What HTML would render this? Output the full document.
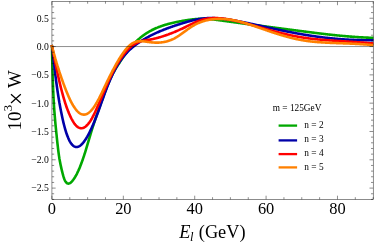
<!DOCTYPE html>
<html><head><meta charset="utf-8"><title>plot</title>
<style>html,body{margin:0;padding:0;background:#fff;}body{width:374px;height:244px;overflow:hidden;position:relative;font-family:"Liberation Serif",serif;}</style>
</head><body>
<svg width="374" height="244" viewBox="0 0 374 244" style="position:absolute;left:0;top:0;will-change:transform">
<defs><clipPath id="c"><rect x="49.45" y="1.5" width="324.45" height="197.9"/></clipPath></defs>
<g clip-path="url(#c)" fill="none" stroke-width="2.6" stroke-linejoin="round" stroke-linecap="butt">
<path d="M51.7,45.0 L52.00,46.40 L52.08,51.22 L52.16,55.62 L52.24,59.65 L52.32,63.37 L52.40,66.80 L52.48,69.98 L52.57,72.94 L52.65,75.71 L52.73,78.31 L52.81,80.75 L52.89,83.05 L52.97,85.22 L53.05,87.28 L53.13,89.24 L53.21,91.10 L53.29,92.88 L53.37,94.58 L53.45,96.21 L53.54,97.77 L53.62,99.27 L53.70,100.72 L53.78,102.11 L53.86,103.46 L53.94,104.77 L54.02,106.03 L54.10,107.25 L54.18,108.44 L54.26,109.60 L54.34,110.73 L54.42,111.83 L54.51,112.90 L54.59,113.95 L54.67,114.97 L54.75,115.97 L54.83,116.95 L54.91,117.91 L54.99,118.86 L55.07,119.78 L55.15,120.69 L55.23,121.59 L55.31,122.48 L55.39,123.35 L55.47,124.21 L55.56,125.06 L55.64,125.90 L55.72,126.73 L55.80,127.56 L55.88,128.37 L55.96,129.18 L56.04,129.99 L56.12,130.78 L56.20,131.58 L56.28,132.36 L56.36,133.15 L56.44,133.93 L56.53,134.70 L56.61,135.47 L56.69,136.24 L56.77,137.01 L56.85,137.77 L56.93,138.53 L57.01,139.29 L57.09,140.05 L57.17,140.80 L57.25,141.56 L57.33,142.30 L57.41,143.05 L57.49,143.79 L57.58,144.52 L57.66,145.25 L57.74,145.97 L57.82,146.68 L57.90,147.38 L57.98,148.08 L58.06,148.76 L58.14,149.44 L58.22,150.10 L58.30,150.76 L58.38,151.40 L58.46,152.03 L58.55,152.65 L58.63,153.26 L58.71,153.86 L58.79,154.44 L58.87,155.01 L58.95,155.57 L59.03,156.12 L59.11,156.65 L59.19,157.17 L59.27,157.68 L59.35,158.18 L59.43,158.67 L59.52,159.15 L59.60,159.62 L59.68,160.08 L59.76,160.53 L59.84,160.97 L59.92,161.41 L60.00,161.84 L60.52,164.46 L61.05,166.88 L61.57,169.17 L62.09,171.37 L62.62,173.47 L63.14,175.42 L63.66,177.18 L64.19,178.72 L64.71,180.01 L65.23,181.07 L65.76,181.91 L66.28,182.56 L66.80,183.04 L67.33,183.36 L67.85,183.54 L68.37,183.60 L68.90,183.54 L69.42,183.38 L69.94,183.13 L70.47,182.79 L70.99,182.37 L71.51,181.88 L72.04,181.32 L72.56,180.71 L73.08,180.05 L73.61,179.33 L74.13,178.57 L74.65,177.76 L75.18,176.90 L75.70,176.00 L76.22,175.05 L76.75,174.05 L77.27,173.01 L77.79,171.92 L78.32,170.79 L78.84,169.61 L79.36,168.39 L79.89,167.13 L80.41,165.82 L80.93,164.47 L81.46,163.08 L81.98,161.66 L82.51,160.19 L83.03,158.68 L83.55,157.14 L84.08,155.56 L84.60,153.94 L85.12,152.29 L85.65,150.61 L86.17,148.89 L86.69,147.14 L87.22,145.38 L87.74,143.60 L88.26,141.82 L88.79,140.04 L89.31,138.27 L89.83,136.51 L90.36,134.77 L90.88,133.05 L91.40,131.36 L91.93,129.69 L92.45,128.04 L92.97,126.41 L93.50,124.79 L94.02,123.20 L94.54,121.62 L95.07,120.05 L95.59,118.50 L96.11,116.95 L96.64,115.43 L97.16,113.91 L97.68,112.40 L98.21,110.90 L98.73,109.41 L99.25,107.93 L99.78,106.46 L100.30,104.99 L100.82,103.53 L101.35,102.08 L101.87,100.64 L102.39,99.20 L102.92,97.77 L103.44,96.34 L103.96,94.92 L104.49,93.50 L105.01,92.09 L105.53,90.70 L106.06,89.32 L106.58,87.96 L107.10,86.62 L107.63,85.30 L108.15,84.00 L108.67,82.74 L109.20,81.49 L109.72,80.28 L110.24,79.10 L110.77,77.96 L111.29,76.85 L111.81,75.77 L112.34,74.73 L112.86,73.72 L113.38,72.74 L113.91,71.78 L114.43,70.85 L114.95,69.94 L115.48,69.05 L116.00,68.18 L116.52,67.32 L117.05,66.48 L117.57,65.65 L118.09,64.83 L118.62,64.02 L119.14,63.22 L119.66,62.42 L120.19,61.63 L120.71,60.85 L121.23,60.07 L121.76,59.30 L122.28,58.54 L122.80,57.78 L123.33,57.04 L123.85,56.30 L124.37,55.57 L124.90,54.85 L125.42,54.13 L125.94,53.43 L126.47,52.73 L126.99,52.05 L127.52,51.37 L128.04,50.70 L128.56,50.04 L129.09,49.39 L129.61,48.75 L130.13,48.11 L130.66,47.49 L131.18,46.88 L131.70,46.27 L132.23,45.68 L132.75,45.10 L133.27,44.52 L133.80,43.96 L134.32,43.40 L134.84,42.86 L135.37,42.32 L135.89,41.79 L136.41,41.28 L136.94,40.77 L137.46,40.28 L137.98,39.79 L138.51,39.32 L139.03,38.85 L139.55,38.39 L140.08,37.95 L140.60,37.51 L141.12,37.09 L141.65,36.67 L142.17,36.26 L142.69,35.86 L143.22,35.47 L143.74,35.09 L144.26,34.72 L144.79,34.36 L145.31,34.00 L145.83,33.65 L146.36,33.31 L146.88,32.98 L147.40,32.65 L147.93,32.33 L148.45,32.02 L148.97,31.71 L149.50,31.42 L150.02,31.12 L150.54,30.84 L151.07,30.56 L151.59,30.28 L152.11,30.02 L152.64,29.75 L153.16,29.50 L153.68,29.24 L154.21,29.00 L154.73,28.76 L155.25,28.52 L155.78,28.29 L156.30,28.06 L156.82,27.84 L157.35,27.63 L157.87,27.41 L158.39,27.21 L158.92,27.00 L159.44,26.80 L159.96,26.61 L160.49,26.42 L161.01,26.23 L161.53,26.04 L162.06,25.86 L162.58,25.69 L163.10,25.51 L163.63,25.34 L164.15,25.18 L164.67,25.01 L165.20,24.85 L165.72,24.70 L166.24,24.54 L166.77,24.39 L167.29,24.24 L167.81,24.10 L168.34,23.96 L168.86,23.81 L169.38,23.68 L169.91,23.54 L170.43,23.41 L170.95,23.28 L171.48,23.15 L172.00,23.03 L172.53,22.90 L173.05,22.78 L173.57,22.66 L174.10,22.54 L174.62,22.43 L175.14,22.31 L175.67,22.20 L176.19,22.09 L176.71,21.98 L177.24,21.88 L177.76,21.77 L178.28,21.67 L178.81,21.57 L179.33,21.47 L179.85,21.37 L180.38,21.27 L180.90,21.18 L181.42,21.08 L181.95,20.99 L182.47,20.90 L182.99,20.81 L183.52,20.72 L184.04,20.63 L184.56,20.54 L185.09,20.45 L185.61,20.37 L186.13,20.28 L186.66,20.20 L187.18,20.12 L187.70,20.04 L188.23,19.96 L188.75,19.89 L189.27,19.81 L189.80,19.74 L190.32,19.67 L190.84,19.60 L191.37,19.53 L191.89,19.47 L192.41,19.41 L192.94,19.35 L193.46,19.29 L193.98,19.24 L194.51,19.19 L195.03,19.14 L195.55,19.10 L196.08,19.06 L196.60,19.02 L197.12,18.98 L197.65,18.95 L198.17,18.92 L198.69,18.90 L199.22,18.87 L199.74,18.86 L200.26,18.84 L200.79,18.83 L201.31,18.82 L201.83,18.82 L202.36,18.82 L202.88,18.82 L203.40,18.83 L203.93,18.84 L204.45,18.86 L204.97,18.87 L205.50,18.90 L206.02,18.92 L206.54,18.95 L207.07,18.98 L207.59,19.01 L208.11,19.04 L208.64,19.08 L209.16,19.12 L209.68,19.16 L210.21,19.21 L210.73,19.25 L211.25,19.30 L211.78,19.35 L212.30,19.41 L212.82,19.46 L213.35,19.52 L213.87,19.57 L214.39,19.63 L214.92,19.69 L215.44,19.75 L215.96,19.82 L216.49,19.88 L217.01,19.94 L217.54,20.01 L218.06,20.08 L218.58,20.14 L219.11,20.21 L219.63,20.28 L220.15,20.35 L220.68,20.42 L221.20,20.49 L221.72,20.56 L222.25,20.63 L222.77,20.70 L223.29,20.78 L223.82,20.85 L224.34,20.92 L224.86,20.99 L225.39,21.06 L225.91,21.14 L226.43,21.21 L226.96,21.28 L227.48,21.35 L228.00,21.42 L228.53,21.49 L229.05,21.57 L229.57,21.64 L230.10,21.71 L230.62,21.78 L231.14,21.85 L231.67,21.92 L232.19,22.00 L232.71,22.07 L233.24,22.14 L233.76,22.21 L234.28,22.28 L234.81,22.35 L235.33,22.42 L235.85,22.49 L236.38,22.56 L236.90,22.64 L237.42,22.71 L237.95,22.78 L238.47,22.85 L238.99,22.92 L239.52,22.99 L240.04,23.06 L240.56,23.13 L241.09,23.20 L241.61,23.27 L242.13,23.34 L242.66,23.41 L243.18,23.48 L243.70,23.55 L244.23,23.62 L244.75,23.70 L245.27,23.77 L245.80,23.84 L246.32,23.91 L246.84,23.98 L247.37,24.05 L247.89,24.12 L248.41,24.19 L248.94,24.26 L249.46,24.33 L249.98,24.40 L250.51,24.47 L251.03,24.54 L251.55,24.61 L252.08,24.68 L252.60,24.75 L253.12,24.82 L253.65,24.89 L254.17,24.96 L254.69,25.03 L255.22,25.10 L255.74,25.17 L256.26,25.24 L256.79,25.30 L257.31,25.37 L257.83,25.44 L258.36,25.51 L258.88,25.58 L259.40,25.65 L259.93,25.72 L260.45,25.79 L260.97,25.86 L261.50,25.93 L262.02,26.00 L262.55,26.07 L263.07,26.14 L263.59,26.21 L264.12,26.28 L264.64,26.35 L265.16,26.41 L265.69,26.48 L266.21,26.55 L266.73,26.62 L267.26,26.69 L267.78,26.76 L268.30,26.83 L268.83,26.90 L269.35,26.97 L269.87,27.04 L270.40,27.10 L270.92,27.17 L271.44,27.24 L271.97,27.31 L272.49,27.38 L273.01,27.45 L273.54,27.52 L274.06,27.59 L274.58,27.65 L275.11,27.72 L275.63,27.79 L276.15,27.86 L276.68,27.93 L277.20,28.00 L277.72,28.07 L278.25,28.13 L278.77,28.20 L279.29,28.27 L279.82,28.34 L280.34,28.41 L280.86,28.48 L281.39,28.54 L281.91,28.61 L282.43,28.68 L282.96,28.75 L283.48,28.82 L284.00,28.88 L284.53,28.95 L285.05,29.02 L285.57,29.09 L286.10,29.16 L286.62,29.23 L287.14,29.29 L287.67,29.36 L288.19,29.43 L288.71,29.50 L289.24,29.57 L289.76,29.63 L290.28,29.70 L290.81,29.77 L291.33,29.84 L291.85,29.90 L292.38,29.97 L292.90,30.04 L293.42,30.11 L293.95,30.18 L294.47,30.24 L294.99,30.31 L295.52,30.38 L296.04,30.45 L296.56,30.51 L297.09,30.58 L297.61,30.65 L298.13,30.72 L298.66,30.78 L299.18,30.85 L299.70,30.92 L300.23,30.99 L300.75,31.05 L301.27,31.12 L301.80,31.19 L302.32,31.26 L302.84,31.32 L303.37,31.39 L303.89,31.46 L304.41,31.52 L304.94,31.59 L305.46,31.66 L305.98,31.73 L306.51,31.79 L307.03,31.86 L307.56,31.93 L308.08,31.99 L308.60,32.06 L309.13,32.13 L309.65,32.20 L310.17,32.26 L310.70,32.33 L311.22,32.40 L311.74,32.46 L312.27,32.53 L312.79,32.59 L313.31,32.66 L313.84,32.73 L314.36,32.79 L314.88,32.86 L315.41,32.92 L315.93,32.99 L316.45,33.05 L316.98,33.12 L317.50,33.18 L318.02,33.24 L318.55,33.31 L319.07,33.37 L319.59,33.44 L320.12,33.50 L320.64,33.56 L321.16,33.63 L321.69,33.69 L322.21,33.75 L322.73,33.81 L323.26,33.87 L323.78,33.94 L324.30,34.00 L324.83,34.06 L325.35,34.12 L325.87,34.18 L326.40,34.24 L326.92,34.30 L327.44,34.36 L327.97,34.42 L328.49,34.48 L329.01,34.54 L329.54,34.59 L330.06,34.65 L330.58,34.71 L331.11,34.77 L331.63,34.82 L332.15,34.88 L332.68,34.93 L333.20,34.99 L333.72,35.05 L334.25,35.10 L334.77,35.15 L335.29,35.21 L335.82,35.26 L336.34,35.32 L336.86,35.37 L337.39,35.42 L337.91,35.47 L338.43,35.53 L338.96,35.58 L339.48,35.63 L340.00,35.68 L340.53,35.73 L341.05,35.78 L341.57,35.83 L342.10,35.87 L342.62,35.92 L343.14,35.97 L343.67,36.02 L344.19,36.06 L344.71,36.11 L345.24,36.16 L345.76,36.20 L346.28,36.25 L346.81,36.29 L347.33,36.34 L347.85,36.38 L348.38,36.42 L348.90,36.47 L349.42,36.51 L349.95,36.55 L350.47,36.59 L350.99,36.63 L351.52,36.67 L352.04,36.71 L352.57,36.75 L353.09,36.79 L353.61,36.83 L354.14,36.86 L354.66,36.90 L355.18,36.94 L355.71,36.97 L356.23,37.01 L356.75,37.04 L357.28,37.08 L357.80,37.11 L358.32,37.15 L358.85,37.18 L359.37,37.21 L359.89,37.24 L360.42,37.27 L360.94,37.30 L361.46,37.33 L361.99,37.36 L362.51,37.39 L363.03,37.42 L363.56,37.45 L364.08,37.48 L364.60,37.50 L365.13,37.53 L365.65,37.56 L366.17,37.58 L366.70,37.60 L367.22,37.63 L367.74,37.65 L368.27,37.67 L368.79,37.70 L369.31,37.72 L369.84,37.74 L370.36,37.76 L370.88,37.78 L371.41,37.80 L371.93,37.82 L372.45,37.84 L372.98,37.85 L373.50,37.87" stroke="#00a800"/>
<path d="M51.7,45.0 L52.00,46.40 L52.08,46.98 L52.16,47.57 L52.24,48.19 L52.32,48.82 L52.40,49.47 L52.48,50.13 L52.57,50.80 L52.65,51.48 L52.73,52.17 L52.81,52.86 L52.89,53.56 L52.97,54.26 L53.05,54.97 L53.13,55.69 L53.21,56.40 L53.29,57.12 L53.37,57.83 L53.45,58.55 L53.54,59.27 L53.62,59.98 L53.70,60.70 L53.78,61.42 L53.86,62.13 L53.94,62.84 L54.02,63.55 L54.10,64.26 L54.18,64.97 L54.26,65.67 L54.34,66.37 L54.42,67.07 L54.51,67.76 L54.59,68.45 L54.67,69.14 L54.75,69.82 L54.83,70.50 L54.91,71.18 L54.99,71.85 L55.07,72.52 L55.15,73.18 L55.23,73.84 L55.31,74.50 L55.39,75.15 L55.47,75.80 L55.56,76.45 L55.64,77.09 L55.72,77.73 L55.80,78.36 L55.88,78.99 L55.96,79.61 L56.04,80.23 L56.12,80.85 L56.20,81.46 L56.28,82.07 L56.36,82.67 L56.44,83.27 L56.53,83.87 L56.61,84.46 L56.69,85.05 L56.77,85.63 L56.85,86.21 L56.93,86.79 L57.01,87.36 L57.09,87.93 L57.17,88.49 L57.25,89.05 L57.33,89.61 L57.41,90.16 L57.49,90.71 L57.58,91.26 L57.66,91.80 L57.74,92.34 L57.82,92.87 L57.90,93.40 L57.98,93.93 L58.06,94.45 L58.14,94.97 L58.22,95.49 L58.30,96.00 L58.38,96.51 L58.46,97.01 L58.55,97.52 L58.63,98.01 L58.71,98.51 L58.79,99.00 L58.87,99.49 L58.95,99.98 L59.03,100.46 L59.11,100.94 L59.19,101.41 L59.27,101.88 L59.35,102.35 L59.43,102.82 L59.52,103.28 L59.60,103.74 L59.68,104.20 L59.76,104.65 L59.84,105.10 L59.92,105.55 L60.00,106.00 L60.52,108.81 L61.05,111.51 L61.57,114.09 L62.09,116.58 L62.62,118.96 L63.14,121.25 L63.66,123.44 L64.19,125.52 L64.71,127.49 L65.23,129.35 L65.76,131.11 L66.28,132.77 L66.80,134.32 L67.33,135.77 L67.85,137.11 L68.37,138.36 L68.90,139.52 L69.42,140.58 L69.94,141.55 L70.47,142.43 L70.99,143.23 L71.51,143.94 L72.04,144.57 L72.56,145.13 L73.08,145.60 L73.61,146.01 L74.13,146.34 L74.65,146.60 L75.18,146.80 L75.70,146.93 L76.22,146.99 L76.75,147.00 L77.27,146.95 L77.79,146.83 L78.32,146.67 L78.84,146.44 L79.36,146.17 L79.89,145.84 L80.41,145.47 L80.93,145.05 L81.46,144.58 L81.98,144.06 L82.51,143.51 L83.03,142.90 L83.55,142.26 L84.08,141.58 L84.60,140.86 L85.12,140.10 L85.65,139.31 L86.17,138.48 L86.69,137.61 L87.22,136.71 L87.74,135.78 L88.26,134.82 L88.79,133.83 L89.31,132.81 L89.83,131.76 L90.36,130.68 L90.88,129.58 L91.40,128.45 L91.93,127.29 L92.45,126.11 L92.97,124.91 L93.50,123.68 L94.02,122.43 L94.54,121.16 L95.07,119.86 L95.59,118.55 L96.11,117.21 L96.64,115.86 L97.16,114.48 L97.68,113.09 L98.21,111.68 L98.73,110.25 L99.25,108.81 L99.78,107.35 L100.30,105.88 L100.82,104.40 L101.35,102.92 L101.87,101.44 L102.39,99.96 L102.92,98.48 L103.44,97.01 L103.96,95.55 L104.49,94.11 L105.01,92.68 L105.53,91.26 L106.06,89.86 L106.58,88.49 L107.10,87.13 L107.63,85.80 L108.15,84.49 L108.67,83.21 L109.20,81.95 L109.72,80.72 L110.24,79.51 L110.77,78.32 L111.29,77.16 L111.81,76.02 L112.34,74.90 L112.86,73.81 L113.38,72.75 L113.91,71.70 L114.43,70.68 L114.95,69.68 L115.48,68.71 L116.00,67.75 L116.52,66.82 L117.05,65.92 L117.57,65.03 L118.09,64.17 L118.62,63.32 L119.14,62.51 L119.66,61.71 L120.19,60.93 L120.71,60.17 L121.23,59.44 L121.76,58.72 L122.28,58.02 L122.80,57.34 L123.33,56.68 L123.85,56.04 L124.37,55.41 L124.90,54.79 L125.42,54.20 L125.94,53.61 L126.47,53.04 L126.99,52.49 L127.52,51.94 L128.04,51.41 L128.56,50.89 L129.09,50.39 L129.61,49.89 L130.13,49.40 L130.66,48.93 L131.18,48.46 L131.70,48.01 L132.23,47.56 L132.75,47.12 L133.27,46.70 L133.80,46.27 L134.32,45.86 L134.84,45.46 L135.37,45.06 L135.89,44.67 L136.41,44.28 L136.94,43.90 L137.46,43.53 L137.98,43.16 L138.51,42.80 L139.03,42.45 L139.55,42.10 L140.08,41.75 L140.60,41.41 L141.12,41.07 L141.65,40.74 L142.17,40.41 L142.69,40.09 L143.22,39.77 L143.74,39.45 L144.26,39.14 L144.79,38.83 L145.31,38.53 L145.83,38.23 L146.36,37.93 L146.88,37.64 L147.40,37.35 L147.93,37.06 L148.45,36.78 L148.97,36.50 L149.50,36.22 L150.02,35.95 L150.54,35.68 L151.07,35.41 L151.59,35.15 L152.11,34.89 L152.64,34.63 L153.16,34.38 L153.68,34.12 L154.21,33.87 L154.73,33.63 L155.25,33.38 L155.78,33.14 L156.30,32.90 L156.82,32.66 L157.35,32.43 L157.87,32.20 L158.39,31.97 L158.92,31.74 L159.44,31.51 L159.96,31.29 L160.49,31.07 L161.01,30.85 L161.53,30.63 L162.06,30.42 L162.58,30.20 L163.10,29.99 L163.63,29.78 L164.15,29.58 L164.67,29.37 L165.20,29.17 L165.72,28.97 L166.24,28.77 L166.77,28.57 L167.29,28.37 L167.81,28.17 L168.34,27.98 L168.86,27.79 L169.38,27.60 L169.91,27.41 L170.43,27.22 L170.95,27.04 L171.48,26.85 L172.00,26.67 L172.53,26.49 L173.05,26.31 L173.57,26.13 L174.10,25.95 L174.62,25.77 L175.14,25.60 L175.67,25.42 L176.19,25.25 L176.71,25.08 L177.24,24.91 L177.76,24.74 L178.28,24.57 L178.81,24.40 L179.33,24.24 L179.85,24.07 L180.38,23.91 L180.90,23.74 L181.42,23.58 L181.95,23.42 L182.47,23.26 L182.99,23.10 L183.52,22.94 L184.04,22.78 L184.56,22.63 L185.09,22.47 L185.61,22.32 L186.13,22.16 L186.66,22.01 L187.18,21.86 L187.70,21.71 L188.23,21.56 L188.75,21.41 L189.27,21.27 L189.80,21.13 L190.32,20.99 L190.84,20.85 L191.37,20.71 L191.89,20.58 L192.41,20.45 L192.94,20.32 L193.46,20.19 L193.98,20.07 L194.51,19.95 L195.03,19.83 L195.55,19.72 L196.08,19.61 L196.60,19.50 L197.12,19.39 L197.65,19.29 L198.17,19.20 L198.69,19.10 L199.22,19.01 L199.74,18.93 L200.26,18.84 L200.79,18.76 L201.31,18.69 L201.83,18.62 L202.36,18.55 L202.88,18.49 L203.40,18.43 L203.93,18.38 L204.45,18.33 L204.97,18.29 L205.50,18.25 L206.02,18.21 L206.54,18.18 L207.07,18.15 L207.59,18.13 L208.11,18.11 L208.64,18.09 L209.16,18.08 L209.68,18.07 L210.21,18.07 L210.73,18.07 L211.25,18.07 L211.78,18.07 L212.30,18.08 L212.82,18.10 L213.35,18.11 L213.87,18.13 L214.39,18.15 L214.92,18.17 L215.44,18.20 L215.96,18.23 L216.49,18.26 L217.01,18.30 L217.54,18.33 L218.06,18.37 L218.58,18.41 L219.11,18.46 L219.63,18.50 L220.15,18.55 L220.68,18.60 L221.20,18.66 L221.72,18.71 L222.25,18.77 L222.77,18.83 L223.29,18.89 L223.82,18.95 L224.34,19.02 L224.86,19.08 L225.39,19.15 L225.91,19.22 L226.43,19.29 L226.96,19.36 L227.48,19.43 L228.00,19.51 L228.53,19.59 L229.05,19.66 L229.57,19.74 L230.10,19.82 L230.62,19.90 L231.14,19.99 L231.67,20.07 L232.19,20.16 L232.71,20.24 L233.24,20.33 L233.76,20.42 L234.28,20.51 L234.81,20.60 L235.33,20.69 L235.85,20.79 L236.38,20.88 L236.90,20.97 L237.42,21.07 L237.95,21.17 L238.47,21.26 L238.99,21.36 L239.52,21.46 L240.04,21.56 L240.56,21.66 L241.09,21.76 L241.61,21.86 L242.13,21.97 L242.66,22.07 L243.18,22.17 L243.70,22.28 L244.23,22.38 L244.75,22.49 L245.27,22.60 L245.80,22.70 L246.32,22.81 L246.84,22.92 L247.37,23.03 L247.89,23.14 L248.41,23.25 L248.94,23.36 L249.46,23.47 L249.98,23.58 L250.51,23.69 L251.03,23.80 L251.55,23.91 L252.08,24.02 L252.60,24.13 L253.12,24.25 L253.65,24.36 L254.17,24.47 L254.69,24.59 L255.22,24.70 L255.74,24.81 L256.26,24.93 L256.79,25.04 L257.31,25.16 L257.83,25.27 L258.36,25.38 L258.88,25.50 L259.40,25.61 L259.93,25.73 L260.45,25.84 L260.97,25.96 L261.50,26.07 L262.02,26.19 L262.55,26.30 L263.07,26.42 L263.59,26.53 L264.12,26.65 L264.64,26.76 L265.16,26.88 L265.69,26.99 L266.21,27.11 L266.73,27.22 L267.26,27.34 L267.78,27.45 L268.30,27.57 L268.83,27.68 L269.35,27.79 L269.87,27.91 L270.40,28.02 L270.92,28.14 L271.44,28.25 L271.97,28.36 L272.49,28.47 L273.01,28.59 L273.54,28.70 L274.06,28.81 L274.58,28.92 L275.11,29.04 L275.63,29.15 L276.15,29.26 L276.68,29.37 L277.20,29.48 L277.72,29.59 L278.25,29.70 L278.77,29.81 L279.29,29.92 L279.82,30.03 L280.34,30.14 L280.86,30.25 L281.39,30.36 L281.91,30.47 L282.43,30.57 L282.96,30.68 L283.48,30.79 L284.00,30.89 L284.53,31.00 L285.05,31.11 L285.57,31.21 L286.10,31.32 L286.62,31.42 L287.14,31.53 L287.67,31.63 L288.19,31.73 L288.71,31.84 L289.24,31.94 L289.76,32.04 L290.28,32.14 L290.81,32.24 L291.33,32.34 L291.85,32.44 L292.38,32.54 L292.90,32.64 L293.42,32.74 L293.95,32.84 L294.47,32.94 L294.99,33.03 L295.52,33.13 L296.04,33.23 L296.56,33.32 L297.09,33.42 L297.61,33.51 L298.13,33.61 L298.66,33.70 L299.18,33.79 L299.70,33.88 L300.23,33.98 L300.75,34.07 L301.27,34.16 L301.80,34.25 L302.32,34.34 L302.84,34.43 L303.37,34.52 L303.89,34.60 L304.41,34.69 L304.94,34.78 L305.46,34.86 L305.98,34.95 L306.51,35.03 L307.03,35.12 L307.56,35.20 L308.08,35.29 L308.60,35.37 L309.13,35.45 L309.65,35.53 L310.17,35.61 L310.70,35.69 L311.22,35.77 L311.74,35.85 L312.27,35.93 L312.79,36.01 L313.31,36.08 L313.84,36.16 L314.36,36.23 L314.88,36.31 L315.41,36.38 L315.93,36.46 L316.45,36.53 L316.98,36.60 L317.50,36.67 L318.02,36.75 L318.55,36.82 L319.07,36.89 L319.59,36.95 L320.12,37.02 L320.64,37.09 L321.16,37.16 L321.69,37.22 L322.21,37.29 L322.73,37.35 L323.26,37.42 L323.78,37.48 L324.30,37.54 L324.83,37.61 L325.35,37.67 L325.87,37.73 L326.40,37.79 L326.92,37.85 L327.44,37.91 L327.97,37.97 L328.49,38.02 L329.01,38.08 L329.54,38.14 L330.06,38.19 L330.58,38.24 L331.11,38.30 L331.63,38.35 L332.15,38.40 L332.68,38.46 L333.20,38.51 L333.72,38.56 L334.25,38.61 L334.77,38.65 L335.29,38.70 L335.82,38.75 L336.34,38.80 L336.86,38.84 L337.39,38.89 L337.91,38.93 L338.43,38.98 L338.96,39.02 L339.48,39.06 L340.00,39.10 L340.53,39.14 L341.05,39.18 L341.57,39.22 L342.10,39.26 L342.62,39.30 L343.14,39.34 L343.67,39.37 L344.19,39.41 L344.71,39.44 L345.24,39.48 L345.76,39.51 L346.28,39.54 L346.81,39.58 L347.33,39.61 L347.85,39.64 L348.38,39.67 L348.90,39.70 L349.42,39.72 L349.95,39.75 L350.47,39.78 L350.99,39.80 L351.52,39.83 L352.04,39.85 L352.57,39.88 L353.09,39.90 L353.61,39.92 L354.14,39.94 L354.66,39.97 L355.18,39.99 L355.71,40.00 L356.23,40.02 L356.75,40.04 L357.28,40.06 L357.80,40.07 L358.32,40.09 L358.85,40.10 L359.37,40.12 L359.89,40.13 L360.42,40.14 L360.94,40.16 L361.46,40.17 L361.99,40.18 L362.51,40.19 L363.03,40.20 L363.56,40.20 L364.08,40.21 L364.60,40.22 L365.13,40.22 L365.65,40.23 L366.17,40.23 L366.70,40.24 L367.22,40.24 L367.74,40.24 L368.27,40.24 L368.79,40.24 L369.31,40.24 L369.84,40.24 L370.36,40.24 L370.88,40.24 L371.41,40.24 L371.93,40.23 L372.45,40.23 L372.98,40.22 L373.50,40.22" stroke="#0000a8"/>
<path d="M51.7,45.0 L52.00,46.40 L52.08,46.76 L52.16,47.12 L52.24,47.48 L52.32,47.85 L52.40,48.23 L52.48,48.61 L52.57,48.99 L52.65,49.37 L52.73,49.76 L52.81,50.15 L52.89,50.54 L52.97,50.93 L53.05,51.33 L53.13,51.73 L53.21,52.12 L53.29,52.52 L53.37,52.93 L53.45,53.33 L53.54,53.73 L53.62,54.13 L53.70,54.54 L53.78,54.94 L53.86,55.35 L53.94,55.76 L54.02,56.16 L54.10,56.57 L54.18,56.97 L54.26,57.38 L54.34,57.79 L54.42,58.19 L54.51,58.60 L54.59,59.00 L54.67,59.41 L54.75,59.81 L54.83,60.21 L54.91,60.62 L54.99,61.02 L55.07,61.42 L55.15,61.82 L55.23,62.22 L55.31,62.62 L55.39,63.02 L55.47,63.42 L55.56,63.82 L55.64,64.21 L55.72,64.61 L55.80,65.01 L55.88,65.40 L55.96,65.79 L56.04,66.18 L56.12,66.57 L56.20,66.96 L56.28,67.35 L56.36,67.74 L56.44,68.13 L56.53,68.51 L56.61,68.90 L56.69,69.28 L56.77,69.66 L56.85,70.04 L56.93,70.42 L57.01,70.80 L57.09,71.18 L57.17,71.55 L57.25,71.93 L57.33,72.30 L57.41,72.68 L57.49,73.05 L57.58,73.42 L57.66,73.79 L57.74,74.15 L57.82,74.52 L57.90,74.89 L57.98,75.25 L58.06,75.61 L58.14,75.98 L58.22,76.34 L58.30,76.70 L58.38,77.06 L58.46,77.41 L58.55,77.77 L58.63,78.12 L58.71,78.48 L58.79,78.83 L58.87,79.18 L58.95,79.53 L59.03,79.88 L59.11,80.23 L59.19,80.57 L59.27,80.92 L59.35,81.26 L59.43,81.60 L59.52,81.95 L59.60,82.29 L59.68,82.63 L59.76,82.96 L59.84,83.30 L59.92,83.64 L60.00,83.97 L60.52,86.11 L61.05,88.20 L61.57,90.25 L62.09,92.24 L62.62,94.19 L63.14,96.08 L63.66,97.91 L64.19,99.69 L64.71,101.41 L65.23,103.07 L65.76,104.67 L66.28,106.22 L66.80,107.71 L67.33,109.15 L67.85,110.53 L68.37,111.86 L68.90,113.13 L69.42,114.36 L69.94,115.53 L70.47,116.66 L70.99,117.73 L71.51,118.76 L72.04,119.74 L72.56,120.68 L73.08,121.56 L73.61,122.39 L74.13,123.16 L74.65,123.89 L75.18,124.55 L75.70,125.16 L76.22,125.72 L76.75,126.22 L77.27,126.66 L77.79,127.05 L78.32,127.38 L78.84,127.66 L79.36,127.88 L79.89,128.05 L80.41,128.16 L80.93,128.22 L81.46,128.23 L81.98,128.19 L82.51,128.09 L83.03,127.95 L83.55,127.75 L84.08,127.50 L84.60,127.21 L85.12,126.87 L85.65,126.47 L86.17,126.04 L86.69,125.56 L87.22,125.03 L87.74,124.45 L88.26,123.84 L88.79,123.18 L89.31,122.48 L89.83,121.73 L90.36,120.95 L90.88,120.13 L91.40,119.26 L91.93,118.36 L92.45,117.42 L92.97,116.44 L93.50,115.42 L94.02,114.38 L94.54,113.30 L95.07,112.19 L95.59,111.06 L96.11,109.91 L96.64,108.74 L97.16,107.55 L97.68,106.34 L98.21,105.13 L98.73,103.90 L99.25,102.67 L99.78,101.43 L100.30,100.18 L100.82,98.93 L101.35,97.68 L101.87,96.43 L102.39,95.18 L102.92,93.94 L103.44,92.69 L103.96,91.46 L104.49,90.22 L105.01,89.00 L105.53,87.78 L106.06,86.57 L106.58,85.37 L107.10,84.18 L107.63,83.00 L108.15,81.84 L108.67,80.68 L109.20,79.55 L109.72,78.42 L110.24,77.31 L110.77,76.21 L111.29,75.13 L111.81,74.06 L112.34,73.01 L112.86,71.98 L113.38,70.96 L113.91,69.96 L114.43,68.98 L114.95,68.01 L115.48,67.06 L116.00,66.12 L116.52,65.21 L117.05,64.31 L117.57,63.42 L118.09,62.55 L118.62,61.71 L119.14,60.87 L119.66,60.06 L120.19,59.26 L120.71,58.48 L121.23,57.72 L121.76,56.97 L122.28,56.24 L122.80,55.53 L123.33,54.84 L123.85,54.16 L124.37,53.50 L124.90,52.86 L125.42,52.23 L125.94,51.62 L126.47,51.03 L126.99,50.46 L127.52,49.90 L128.04,49.36 L128.56,48.84 L129.09,48.33 L129.61,47.84 L130.13,47.37 L130.66,46.92 L131.18,46.48 L131.70,46.06 L132.23,45.65 L132.75,45.26 L133.27,44.89 L133.80,44.53 L134.32,44.19 L134.84,43.87 L135.37,43.56 L135.89,43.27 L136.41,42.99 L136.94,42.73 L137.46,42.48 L137.98,42.25 L138.51,42.04 L139.03,41.84 L139.55,41.65 L140.08,41.49 L140.60,41.33 L141.12,41.19 L141.65,41.06 L142.17,40.94 L142.69,40.83 L143.22,40.73 L143.74,40.63 L144.26,40.54 L144.79,40.46 L145.31,40.37 L145.83,40.29 L146.36,40.21 L146.88,40.13 L147.40,40.05 L147.93,39.97 L148.45,39.88 L148.97,39.79 L149.50,39.70 L150.02,39.60 L150.54,39.50 L151.07,39.39 L151.59,39.29 L152.11,39.18 L152.64,39.07 L153.16,38.95 L153.68,38.83 L154.21,38.71 L154.73,38.58 L155.25,38.46 L155.78,38.33 L156.30,38.19 L156.82,38.06 L157.35,37.92 L157.87,37.78 L158.39,37.63 L158.92,37.49 L159.44,37.34 L159.96,37.18 L160.49,37.03 L161.01,36.87 L161.53,36.71 L162.06,36.55 L162.58,36.38 L163.10,36.21 L163.63,36.04 L164.15,35.87 L164.67,35.70 L165.20,35.52 L165.72,35.34 L166.24,35.16 L166.77,34.97 L167.29,34.79 L167.81,34.60 L168.34,34.41 L168.86,34.21 L169.38,34.02 L169.91,33.82 L170.43,33.62 L170.95,33.42 L171.48,33.21 L172.00,33.00 L172.53,32.80 L173.05,32.58 L173.57,32.37 L174.10,32.16 L174.62,31.94 L175.14,31.72 L175.67,31.50 L176.19,31.28 L176.71,31.05 L177.24,30.83 L177.76,30.60 L178.28,30.37 L178.81,30.14 L179.33,29.90 L179.85,29.67 L180.38,29.43 L180.90,29.19 L181.42,28.95 L181.95,28.71 L182.47,28.46 L182.99,28.21 L183.52,27.97 L184.04,27.72 L184.56,27.46 L185.09,27.21 L185.61,26.96 L186.13,26.70 L186.66,26.44 L187.18,26.19 L187.70,25.93 L188.23,25.67 L188.75,25.41 L189.27,25.16 L189.80,24.90 L190.32,24.65 L190.84,24.40 L191.37,24.15 L191.89,23.90 L192.41,23.65 L192.94,23.41 L193.46,23.17 L193.98,22.93 L194.51,22.70 L195.03,22.47 L195.55,22.24 L196.08,22.02 L196.60,21.81 L197.12,21.59 L197.65,21.39 L198.17,21.19 L198.69,20.99 L199.22,20.80 L199.74,20.61 L200.26,20.43 L200.79,20.26 L201.31,20.09 L201.83,19.93 L202.36,19.77 L202.88,19.63 L203.40,19.49 L203.93,19.35 L204.45,19.23 L204.97,19.11 L205.50,19.00 L206.02,18.89 L206.54,18.79 L207.07,18.70 L207.59,18.62 L208.11,18.54 L208.64,18.47 L209.16,18.41 L209.68,18.35 L210.21,18.30 L210.73,18.25 L211.25,18.21 L211.78,18.18 L212.30,18.15 L212.82,18.13 L213.35,18.11 L213.87,18.10 L214.39,18.09 L214.92,18.08 L215.44,18.09 L215.96,18.09 L216.49,18.10 L217.01,18.12 L217.54,18.14 L218.06,18.16 L218.58,18.19 L219.11,18.22 L219.63,18.26 L220.15,18.30 L220.68,18.34 L221.20,18.39 L221.72,18.44 L222.25,18.50 L222.77,18.55 L223.29,18.61 L223.82,18.68 L224.34,18.75 L224.86,18.82 L225.39,18.89 L225.91,18.96 L226.43,19.04 L226.96,19.12 L227.48,19.21 L228.00,19.30 L228.53,19.38 L229.05,19.48 L229.57,19.57 L230.10,19.67 L230.62,19.76 L231.14,19.86 L231.67,19.97 L232.19,20.07 L232.71,20.18 L233.24,20.29 L233.76,20.40 L234.28,20.51 L234.81,20.62 L235.33,20.74 L235.85,20.86 L236.38,20.98 L236.90,21.10 L237.42,21.22 L237.95,21.34 L238.47,21.47 L238.99,21.60 L239.52,21.72 L240.04,21.85 L240.56,21.98 L241.09,22.12 L241.61,22.25 L242.13,22.38 L242.66,22.52 L243.18,22.65 L243.70,22.79 L244.23,22.93 L244.75,23.07 L245.27,23.21 L245.80,23.35 L246.32,23.49 L246.84,23.63 L247.37,23.78 L247.89,23.92 L248.41,24.06 L248.94,24.21 L249.46,24.35 L249.98,24.50 L250.51,24.65 L251.03,24.79 L251.55,24.94 L252.08,25.09 L252.60,25.23 L253.12,25.38 L253.65,25.53 L254.17,25.68 L254.69,25.83 L255.22,25.98 L255.74,26.13 L256.26,26.28 L256.79,26.43 L257.31,26.58 L257.83,26.73 L258.36,26.88 L258.88,27.03 L259.40,27.18 L259.93,27.33 L260.45,27.48 L260.97,27.63 L261.50,27.77 L262.02,27.92 L262.55,28.07 L263.07,28.22 L263.59,28.37 L264.12,28.52 L264.64,28.67 L265.16,28.81 L265.69,28.96 L266.21,29.11 L266.73,29.26 L267.26,29.40 L267.78,29.55 L268.30,29.69 L268.83,29.84 L269.35,29.98 L269.87,30.13 L270.40,30.27 L270.92,30.41 L271.44,30.56 L271.97,30.70 L272.49,30.84 L273.01,30.98 L273.54,31.12 L274.06,31.26 L274.58,31.40 L275.11,31.54 L275.63,31.67 L276.15,31.81 L276.68,31.95 L277.20,32.08 L277.72,32.22 L278.25,32.35 L278.77,32.48 L279.29,32.62 L279.82,32.75 L280.34,32.88 L280.86,33.01 L281.39,33.14 L281.91,33.26 L282.43,33.39 L282.96,33.52 L283.48,33.64 L284.00,33.77 L284.53,33.89 L285.05,34.01 L285.57,34.13 L286.10,34.25 L286.62,34.37 L287.14,34.49 L287.67,34.61 L288.19,34.72 L288.71,34.84 L289.24,34.95 L289.76,35.07 L290.28,35.18 L290.81,35.29 L291.33,35.40 L291.85,35.51 L292.38,35.62 L292.90,35.72 L293.42,35.83 L293.95,35.93 L294.47,36.03 L294.99,36.14 L295.52,36.24 L296.04,36.34 L296.56,36.43 L297.09,36.53 L297.61,36.63 L298.13,36.72 L298.66,36.82 L299.18,36.91 L299.70,37.00 L300.23,37.09 L300.75,37.18 L301.27,37.26 L301.80,37.35 L302.32,37.43 L302.84,37.52 L303.37,37.60 L303.89,37.68 L304.41,37.76 L304.94,37.84 L305.46,37.91 L305.98,37.99 L306.51,38.06 L307.03,38.14 L307.56,38.21 L308.08,38.28 L308.60,38.35 L309.13,38.42 L309.65,38.48 L310.17,38.55 L310.70,38.61 L311.22,38.68 L311.74,38.74 L312.27,38.80 L312.79,38.86 L313.31,38.92 L313.84,38.98 L314.36,39.04 L314.88,39.09 L315.41,39.15 L315.93,39.20 L316.45,39.26 L316.98,39.31 L317.50,39.36 L318.02,39.42 L318.55,39.47 L319.07,39.52 L319.59,39.57 L320.12,39.62 L320.64,39.66 L321.16,39.71 L321.69,39.76 L322.21,39.80 L322.73,39.85 L323.26,39.89 L323.78,39.94 L324.30,39.98 L324.83,40.02 L325.35,40.07 L325.87,40.11 L326.40,40.15 L326.92,40.19 L327.44,40.23 L327.97,40.27 L328.49,40.31 L329.01,40.35 L329.54,40.39 L330.06,40.43 L330.58,40.47 L331.11,40.50 L331.63,40.54 L332.15,40.58 L332.68,40.61 L333.20,40.65 L333.72,40.69 L334.25,40.72 L334.77,40.76 L335.29,40.79 L335.82,40.83 L336.34,40.86 L336.86,40.90 L337.39,40.93 L337.91,40.97 L338.43,41.00 L338.96,41.04 L339.48,41.07 L340.00,41.10 L340.53,41.14 L341.05,41.17 L341.57,41.20 L342.10,41.24 L342.62,41.27 L343.14,41.30 L343.67,41.34 L344.19,41.37 L344.71,41.40 L345.24,41.44 L345.76,41.47 L346.28,41.50 L346.81,41.53 L347.33,41.57 L347.85,41.60 L348.38,41.63 L348.90,41.67 L349.42,41.70 L349.95,41.73 L350.47,41.77 L350.99,41.80 L351.52,41.84 L352.04,41.87 L352.57,41.90 L353.09,41.94 L353.61,41.97 L354.14,42.01 L354.66,42.04 L355.18,42.08 L355.71,42.11 L356.23,42.15 L356.75,42.18 L357.28,42.22 L357.80,42.25 L358.32,42.29 L358.85,42.33 L359.37,42.36 L359.89,42.40 L360.42,42.44 L360.94,42.48 L361.46,42.51 L361.99,42.55 L362.51,42.59 L363.03,42.63 L363.56,42.67 L364.08,42.71 L364.60,42.75 L365.13,42.79 L365.65,42.83 L366.17,42.87 L366.70,42.91 L367.22,42.95 L367.74,43.00 L368.27,43.04 L368.79,43.08 L369.31,43.12 L369.84,43.17 L370.36,43.21 L370.88,43.26 L371.41,43.30 L371.93,43.35 L372.45,43.39 L372.98,43.44 L373.50,43.49" stroke="#ff0000"/>
<path d="M51.7,45.0 L52.00,46.40 L52.08,46.71 L52.16,47.02 L52.24,47.33 L52.32,47.65 L52.40,47.95 L52.48,48.26 L52.57,48.57 L52.65,48.88 L52.73,49.19 L52.81,49.49 L52.89,49.80 L52.97,50.10 L53.05,50.40 L53.13,50.71 L53.21,51.01 L53.29,51.31 L53.37,51.61 L53.45,51.91 L53.54,52.21 L53.62,52.51 L53.70,52.81 L53.78,53.10 L53.86,53.40 L53.94,53.69 L54.02,53.99 L54.10,54.28 L54.18,54.57 L54.26,54.87 L54.34,55.16 L54.42,55.45 L54.51,55.74 L54.59,56.03 L54.67,56.31 L54.75,56.60 L54.83,56.89 L54.91,57.17 L54.99,57.46 L55.07,57.74 L55.15,58.03 L55.23,58.31 L55.31,58.59 L55.39,58.87 L55.47,59.15 L55.56,59.43 L55.64,59.71 L55.72,59.99 L55.80,60.26 L55.88,60.54 L55.96,60.82 L56.04,61.09 L56.12,61.36 L56.20,61.64 L56.28,61.91 L56.36,62.18 L56.44,62.45 L56.53,62.72 L56.61,62.99 L56.69,63.26 L56.77,63.53 L56.85,63.80 L56.93,64.07 L57.01,64.33 L57.09,64.60 L57.17,64.86 L57.25,65.13 L57.33,65.39 L57.41,65.65 L57.49,65.91 L57.58,66.18 L57.66,66.44 L57.74,66.70 L57.82,66.96 L57.90,67.21 L57.98,67.47 L58.06,67.73 L58.14,67.99 L58.22,68.24 L58.30,68.50 L58.38,68.75 L58.46,69.01 L58.55,69.26 L58.63,69.51 L58.71,69.76 L58.79,70.02 L58.87,70.27 L58.95,70.52 L59.03,70.77 L59.11,71.02 L59.19,71.26 L59.27,71.51 L59.35,71.76 L59.43,72.01 L59.52,72.25 L59.60,72.50 L59.68,72.74 L59.76,72.99 L59.84,73.23 L59.92,73.47 L60.00,73.72 L60.52,75.27 L61.05,76.80 L61.57,78.31 L62.09,79.80 L62.62,81.27 L63.14,82.71 L63.66,84.14 L64.19,85.55 L64.71,86.94 L65.23,88.31 L65.76,89.66 L66.28,90.99 L66.80,92.30 L67.33,93.57 L67.85,94.82 L68.37,96.04 L68.90,97.23 L69.42,98.38 L69.94,99.49 L70.47,100.57 L70.99,101.61 L71.51,102.61 L72.04,103.58 L72.56,104.50 L73.08,105.39 L73.61,106.25 L74.13,107.06 L74.65,107.84 L75.18,108.58 L75.70,109.28 L76.22,109.94 L76.75,110.56 L77.27,111.13 L77.79,111.67 L78.32,112.16 L78.84,112.61 L79.36,113.01 L79.89,113.37 L80.41,113.68 L80.93,113.95 L81.46,114.17 L81.98,114.35 L82.51,114.49 L83.03,114.58 L83.55,114.63 L84.08,114.63 L84.60,114.59 L85.12,114.51 L85.65,114.38 L86.17,114.21 L86.69,114.00 L87.22,113.75 L87.74,113.46 L88.26,113.13 L88.79,112.75 L89.31,112.34 L89.83,111.89 L90.36,111.40 L90.88,110.87 L91.40,110.30 L91.93,109.70 L92.45,109.06 L92.97,108.38 L93.50,107.67 L94.02,106.93 L94.54,106.16 L95.07,105.35 L95.59,104.52 L96.11,103.66 L96.64,102.78 L97.16,101.87 L97.68,100.93 L98.21,99.97 L98.73,98.99 L99.25,97.99 L99.78,96.97 L100.30,95.93 L100.82,94.87 L101.35,93.79 L101.87,92.71 L102.39,91.61 L102.92,90.50 L103.44,89.39 L103.96,88.28 L104.49,87.17 L105.01,86.06 L105.53,84.96 L106.06,83.86 L106.58,82.77 L107.10,81.68 L107.63,80.60 L108.15,79.53 L108.67,78.46 L109.20,77.40 L109.72,76.35 L110.24,75.31 L110.77,74.27 L111.29,73.24 L111.81,72.23 L112.34,71.22 L112.86,70.22 L113.38,69.23 L113.91,68.25 L114.43,67.28 L114.95,66.32 L115.48,65.37 L116.00,64.43 L116.52,63.50 L117.05,62.59 L117.57,61.68 L118.09,60.79 L118.62,59.90 L119.14,59.04 L119.66,58.18 L120.19,57.34 L120.71,56.51 L121.23,55.70 L121.76,54.91 L122.28,54.13 L122.80,53.38 L123.33,52.64 L123.85,51.92 L124.37,51.22 L124.90,50.54 L125.42,49.89 L125.94,49.25 L126.47,48.64 L126.99,48.05 L127.52,47.48 L128.04,46.93 L128.56,46.41 L129.09,45.91 L129.61,45.44 L130.13,44.99 L130.66,44.57 L131.18,44.17 L131.70,43.80 L132.23,43.45 L132.75,43.13 L133.27,42.83 L133.80,42.56 L134.32,42.32 L134.84,42.10 L135.37,41.91 L135.89,41.74 L136.41,41.60 L136.94,41.48 L137.46,41.39 L137.98,41.31 L138.51,41.25 L139.03,41.21 L139.55,41.18 L140.08,41.17 L140.60,41.17 L141.12,41.18 L141.65,41.20 L142.17,41.23 L142.69,41.27 L143.22,41.32 L143.74,41.38 L144.26,41.43 L144.79,41.50 L145.31,41.56 L145.83,41.63 L146.36,41.71 L146.88,41.78 L147.40,41.85 L147.93,41.92 L148.45,41.99 L148.97,42.06 L149.50,42.12 L150.02,42.18 L150.54,42.24 L151.07,42.30 L151.59,42.35 L152.11,42.40 L152.64,42.45 L153.16,42.49 L153.68,42.52 L154.21,42.55 L154.73,42.58 L155.25,42.60 L155.78,42.62 L156.30,42.63 L156.82,42.63 L157.35,42.63 L157.87,42.62 L158.39,42.61 L158.92,42.59 L159.44,42.56 L159.96,42.53 L160.49,42.48 L161.01,42.44 L161.53,42.38 L162.06,42.32 L162.58,42.25 L163.10,42.17 L163.63,42.08 L164.15,41.99 L164.67,41.89 L165.20,41.78 L165.72,41.66 L166.24,41.53 L166.77,41.40 L167.29,41.25 L167.81,41.10 L168.34,40.94 L168.86,40.77 L169.38,40.59 L169.91,40.40 L170.43,40.20 L170.95,39.99 L171.48,39.78 L172.00,39.55 L172.53,39.32 L173.05,39.07 L173.57,38.82 L174.10,38.56 L174.62,38.28 L175.14,38.00 L175.67,37.71 L176.19,37.41 L176.71,37.10 L177.24,36.77 L177.76,36.44 L178.28,36.10 L178.81,35.76 L179.33,35.40 L179.85,35.04 L180.38,34.67 L180.90,34.30 L181.42,33.93 L181.95,33.55 L182.47,33.16 L182.99,32.78 L183.52,32.39 L184.04,32.01 L184.56,31.62 L185.09,31.23 L185.61,30.85 L186.13,30.46 L186.66,30.08 L187.18,29.70 L187.70,29.32 L188.23,28.95 L188.75,28.58 L189.27,28.22 L189.80,27.86 L190.32,27.51 L190.84,27.16 L191.37,26.83 L191.89,26.50 L192.41,26.17 L192.94,25.86 L193.46,25.56 L193.98,25.26 L194.51,24.97 L195.03,24.69 L195.55,24.42 L196.08,24.15 L196.60,23.90 L197.12,23.65 L197.65,23.40 L198.17,23.17 L198.69,22.94 L199.22,22.72 L199.74,22.51 L200.26,22.30 L200.79,22.11 L201.31,21.91 L201.83,21.73 L202.36,21.55 L202.88,21.38 L203.40,21.21 L203.93,21.05 L204.45,20.90 L204.97,20.76 L205.50,20.61 L206.02,20.48 L206.54,20.35 L207.07,20.23 L207.59,20.11 L208.11,20.00 L208.64,19.90 L209.16,19.80 L209.68,19.71 L210.21,19.62 L210.73,19.54 L211.25,19.46 L211.78,19.39 L212.30,19.32 L212.82,19.26 L213.35,19.20 L213.87,19.15 L214.39,19.10 L214.92,19.06 L215.44,19.03 L215.96,18.99 L216.49,18.97 L217.01,18.94 L217.54,18.93 L218.06,18.91 L218.58,18.90 L219.11,18.90 L219.63,18.90 L220.15,18.90 L220.68,18.91 L221.20,18.92 L221.72,18.94 L222.25,18.96 L222.77,18.98 L223.29,19.01 L223.82,19.04 L224.34,19.08 L224.86,19.12 L225.39,19.16 L225.91,19.21 L226.43,19.26 L226.96,19.32 L227.48,19.37 L228.00,19.44 L228.53,19.50 L229.05,19.57 L229.57,19.64 L230.10,19.72 L230.62,19.80 L231.14,19.88 L231.67,19.96 L232.19,20.05 L232.71,20.14 L233.24,20.24 L233.76,20.34 L234.28,20.44 L234.81,20.54 L235.33,20.65 L235.85,20.76 L236.38,20.87 L236.90,20.99 L237.42,21.10 L237.95,21.23 L238.47,21.35 L238.99,21.48 L239.52,21.60 L240.04,21.74 L240.56,21.87 L241.09,22.01 L241.61,22.15 L242.13,22.29 L242.66,22.43 L243.18,22.58 L243.70,22.72 L244.23,22.87 L244.75,23.03 L245.27,23.18 L245.80,23.34 L246.32,23.49 L246.84,23.65 L247.37,23.81 L247.89,23.98 L248.41,24.14 L248.94,24.31 L249.46,24.47 L249.98,24.64 L250.51,24.81 L251.03,24.98 L251.55,25.15 L252.08,25.32 L252.60,25.50 L253.12,25.67 L253.65,25.85 L254.17,26.02 L254.69,26.20 L255.22,26.38 L255.74,26.55 L256.26,26.73 L256.79,26.91 L257.31,27.09 L257.83,27.27 L258.36,27.45 L258.88,27.63 L259.40,27.82 L259.93,28.00 L260.45,28.18 L260.97,28.36 L261.50,28.54 L262.02,28.73 L262.55,28.91 L263.07,29.09 L263.59,29.27 L264.12,29.45 L264.64,29.64 L265.16,29.82 L265.69,30.00 L266.21,30.18 L266.73,30.36 L267.26,30.54 L267.78,30.72 L268.30,30.90 L268.83,31.08 L269.35,31.26 L269.87,31.44 L270.40,31.61 L270.92,31.79 L271.44,31.97 L271.97,32.14 L272.49,32.32 L273.01,32.49 L273.54,32.67 L274.06,32.84 L274.58,33.01 L275.11,33.18 L275.63,33.35 L276.15,33.52 L276.68,33.69 L277.20,33.86 L277.72,34.02 L278.25,34.19 L278.77,34.35 L279.29,34.51 L279.82,34.68 L280.34,34.84 L280.86,35.00 L281.39,35.15 L281.91,35.31 L282.43,35.47 L282.96,35.62 L283.48,35.77 L284.00,35.93 L284.53,36.08 L285.05,36.22 L285.57,36.37 L286.10,36.52 L286.62,36.66 L287.14,36.81 L287.67,36.95 L288.19,37.09 L288.71,37.23 L289.24,37.36 L289.76,37.50 L290.28,37.63 L290.81,37.77 L291.33,37.90 L291.85,38.02 L292.38,38.15 L292.90,38.28 L293.42,38.40 L293.95,38.52 L294.47,38.64 L294.99,38.76 L295.52,38.88 L296.04,38.99 L296.56,39.11 L297.09,39.22 L297.61,39.33 L298.13,39.43 L298.66,39.54 L299.18,39.64 L299.70,39.75 L300.23,39.84 L300.75,39.94 L301.27,40.04 L301.80,40.13 L302.32,40.22 L302.84,40.31 L303.37,40.40 L303.89,40.49 L304.41,40.57 L304.94,40.65 L305.46,40.73 L305.98,40.81 L306.51,40.89 L307.03,40.96 L307.56,41.03 L308.08,41.10 L308.60,41.17 L309.13,41.24 L309.65,41.30 L310.17,41.36 L310.70,41.42 L311.22,41.48 L311.74,41.54 L312.27,41.60 L312.79,41.65 L313.31,41.71 L313.84,41.76 L314.36,41.81 L314.88,41.86 L315.41,41.90 L315.93,41.95 L316.45,42.00 L316.98,42.04 L317.50,42.08 L318.02,42.12 L318.55,42.16 L319.07,42.20 L319.59,42.24 L320.12,42.28 L320.64,42.32 L321.16,42.35 L321.69,42.38 L322.21,42.42 L322.73,42.45 L323.26,42.48 L323.78,42.51 L324.30,42.54 L324.83,42.57 L325.35,42.60 L325.87,42.63 L326.40,42.66 L326.92,42.68 L327.44,42.71 L327.97,42.73 L328.49,42.76 L329.01,42.78 L329.54,42.81 L330.06,42.83 L330.58,42.85 L331.11,42.88 L331.63,42.90 L332.15,42.92 L332.68,42.94 L333.20,42.96 L333.72,42.98 L334.25,43.00 L334.77,43.02 L335.29,43.04 L335.82,43.06 L336.34,43.08 L336.86,43.10 L337.39,43.12 L337.91,43.14 L338.43,43.16 L338.96,43.18 L339.48,43.19 L340.00,43.21 L340.53,43.23 L341.05,43.25 L341.57,43.27 L342.10,43.29 L342.62,43.31 L343.14,43.33 L343.67,43.35 L344.19,43.37 L344.71,43.38 L345.24,43.40 L345.76,43.42 L346.28,43.44 L346.81,43.46 L347.33,43.49 L347.85,43.51 L348.38,43.53 L348.90,43.55 L349.42,43.57 L349.95,43.59 L350.47,43.61 L350.99,43.64 L351.52,43.66 L352.04,43.68 L352.57,43.71 L353.09,43.73 L353.61,43.76 L354.14,43.78 L354.66,43.81 L355.18,43.84 L355.71,43.86 L356.23,43.89 L356.75,43.92 L357.28,43.95 L357.80,43.98 L358.32,44.01 L358.85,44.04 L359.37,44.07 L359.89,44.10 L360.42,44.13 L360.94,44.16 L361.46,44.20 L361.99,44.23 L362.51,44.27 L363.03,44.30 L363.56,44.34 L364.08,44.38 L364.60,44.41 L365.13,44.45 L365.65,44.49 L366.17,44.53 L366.70,44.57 L367.22,44.62 L367.74,44.66 L368.27,44.70 L368.79,44.75 L369.31,44.79 L369.84,44.84 L370.36,44.89 L370.88,44.93 L371.41,44.98 L371.93,45.03 L372.45,45.08 L372.98,45.14 L373.50,45.19" stroke="#ff8000"/>
</g>
<line x1="51.95" y1="46.55" x2="373.2" y2="46.55" stroke="#000" stroke-width="0.45"/>
<rect x="51.95" y="1.5" width="321.25" height="197.9" fill="none" stroke="#000" stroke-width="0.45"/>
<path d="M51.95,199.4 v-3.7 M51.95,1.5 v3.7 M69.80,199.4 v-2.2 M69.80,1.5 v2.2 M87.64,199.4 v-2.2 M87.64,1.5 v2.2 M105.48,199.4 v-2.2 M105.48,1.5 v2.2 M123.33,199.4 v-3.7 M123.33,1.5 v3.7 M141.18,199.4 v-2.2 M141.18,1.5 v2.2 M159.02,199.4 v-2.2 M159.02,1.5 v2.2 M176.87,199.4 v-2.2 M176.87,1.5 v2.2 M194.71,199.4 v-3.7 M194.71,1.5 v3.7 M212.56,199.4 v-2.2 M212.56,1.5 v2.2 M230.40,199.4 v-2.2 M230.40,1.5 v2.2 M248.25,199.4 v-2.2 M248.25,1.5 v2.2 M266.09,199.4 v-3.7 M266.09,1.5 v3.7 M283.94,199.4 v-2.2 M283.94,1.5 v2.2 M301.78,199.4 v-2.2 M301.78,1.5 v2.2 M319.62,199.4 v-2.2 M319.62,1.5 v2.2 M337.47,199.4 v-3.7 M337.47,1.5 v3.7 M355.31,199.4 v-2.2 M355.31,1.5 v2.2 M373.16,199.4 v-2.2 M373.16,1.5 v2.2 M51.95,199.42 h2.2 M373.2,199.42 h-2.2 M51.95,193.76 h2.2 M373.2,193.76 h-2.2 M51.95,188.10 h3.7 M373.2,188.10 h-3.7 M51.95,182.44 h2.2 M373.2,182.44 h-2.2 M51.95,176.78 h2.2 M373.2,176.78 h-2.2 M51.95,171.11 h2.2 M373.2,171.11 h-2.2 M51.95,165.45 h2.2 M373.2,165.45 h-2.2 M51.95,159.79 h3.7 M373.2,159.79 h-3.7 M51.95,154.13 h2.2 M373.2,154.13 h-2.2 M51.95,148.47 h2.2 M373.2,148.47 h-2.2 M51.95,142.80 h2.2 M373.2,142.80 h-2.2 M51.95,137.14 h2.2 M373.2,137.14 h-2.2 M51.95,131.48 h3.7 M373.2,131.48 h-3.7 M51.95,125.82 h2.2 M373.2,125.82 h-2.2 M51.95,120.16 h2.2 M373.2,120.16 h-2.2 M51.95,114.49 h2.2 M373.2,114.49 h-2.2 M51.95,108.83 h2.2 M373.2,108.83 h-2.2 M51.95,103.17 h3.7 M373.2,103.17 h-3.7 M51.95,97.51 h2.2 M373.2,97.51 h-2.2 M51.95,91.85 h2.2 M373.2,91.85 h-2.2 M51.95,86.18 h2.2 M373.2,86.18 h-2.2 M51.95,80.52 h2.2 M373.2,80.52 h-2.2 M51.95,74.86 h3.7 M373.2,74.86 h-3.7 M51.95,69.20 h2.2 M373.2,69.20 h-2.2 M51.95,63.54 h2.2 M373.2,63.54 h-2.2 M51.95,57.87 h2.2 M373.2,57.87 h-2.2 M51.95,52.21 h2.2 M373.2,52.21 h-2.2 M51.95,46.55 h3.7 M373.2,46.55 h-3.7 M51.95,40.89 h2.2 M373.2,40.89 h-2.2 M51.95,35.23 h2.2 M373.2,35.23 h-2.2 M51.95,29.56 h2.2 M373.2,29.56 h-2.2 M51.95,23.90 h2.2 M373.2,23.90 h-2.2 M51.95,18.24 h3.7 M373.2,18.24 h-3.7 M51.95,12.58 h2.2 M373.2,12.58 h-2.2 M51.95,6.92 h2.2 M373.2,6.92 h-2.2" stroke="#000" stroke-width="0.45" fill="none"/>
<g font-family="Liberation Serif, serif" fill="#000">
<text x="51.95" y="214.0" font-size="16.4" text-anchor="middle">0</text>
<text x="123.33" y="214.0" font-size="16.4" text-anchor="middle">20</text>
<text x="194.71" y="214.0" font-size="16.4" text-anchor="middle">40</text>
<text x="266.09" y="214.0" font-size="16.4" text-anchor="middle">60</text>
<text x="337.47" y="214.0" font-size="16.4" text-anchor="middle">80</text>
<text x="48.8" y="191" font-size="9.7" text-anchor="end">−2.5</text>
<text x="48.8" y="163" font-size="9.7" text-anchor="end">−2.0</text>
<text x="48.8" y="135" font-size="9.7" text-anchor="end">−1.5</text>
<text x="48.8" y="107" font-size="9.7" text-anchor="end">−1.0</text>
<text x="48.8" y="78" font-size="9.7" text-anchor="end">−0.5</text>
<text x="48.8" y="50" font-size="9.7" text-anchor="end">0.0</text>
<text x="48.8" y="22" font-size="9.7" text-anchor="end">0.5</text>
<text x="272.8" y="110.8" font-size="9.3">m = 125GeV</text>
<line x1="278.6" y1="125.6" x2="297.1" y2="125.6" stroke="#00a800" stroke-width="2.3"/>
<text x="304.3" y="128" font-size="9.35">n = 2</text>
<line x1="278.6" y1="140.4" x2="297.1" y2="140.4" stroke="#0000a8" stroke-width="2.3"/>
<text x="304.3" y="142" font-size="9.35">n = 3</text>
<line x1="278.6" y1="154.1" x2="297.1" y2="154.1" stroke="#ff0000" stroke-width="2.3"/>
<text x="304.3" y="156" font-size="9.35">n = 4</text>
<line x1="278.6" y1="167.4" x2="297.1" y2="167.4" stroke="#ff8000" stroke-width="2.3"/>
<text x="304.3" y="170" font-size="9.35">n = 5</text>
<text x="179.3" y="238.0" font-size="18.3" font-style="italic">E</text><text x="190.0" y="240.8" font-size="12.6" font-style="italic">l</text><text x="198.8" y="238.0" font-size="18.3">(GeV)</text>
<g transform="translate(21.2,128.9) rotate(-90)" font-size="18.8"><text x="-1.6" y="0">10</text><text x="17.7" y="-9.4" font-size="12.8">3</text><path d="M25.9,-10.2 L34.7,-0.4 M25.9,-0.4 L34.7,-10.2" stroke="#000" stroke-width="1.2" fill="none"/><text x="41.0" y="0">W</text></g>
</g>
</svg>
</body></html>
